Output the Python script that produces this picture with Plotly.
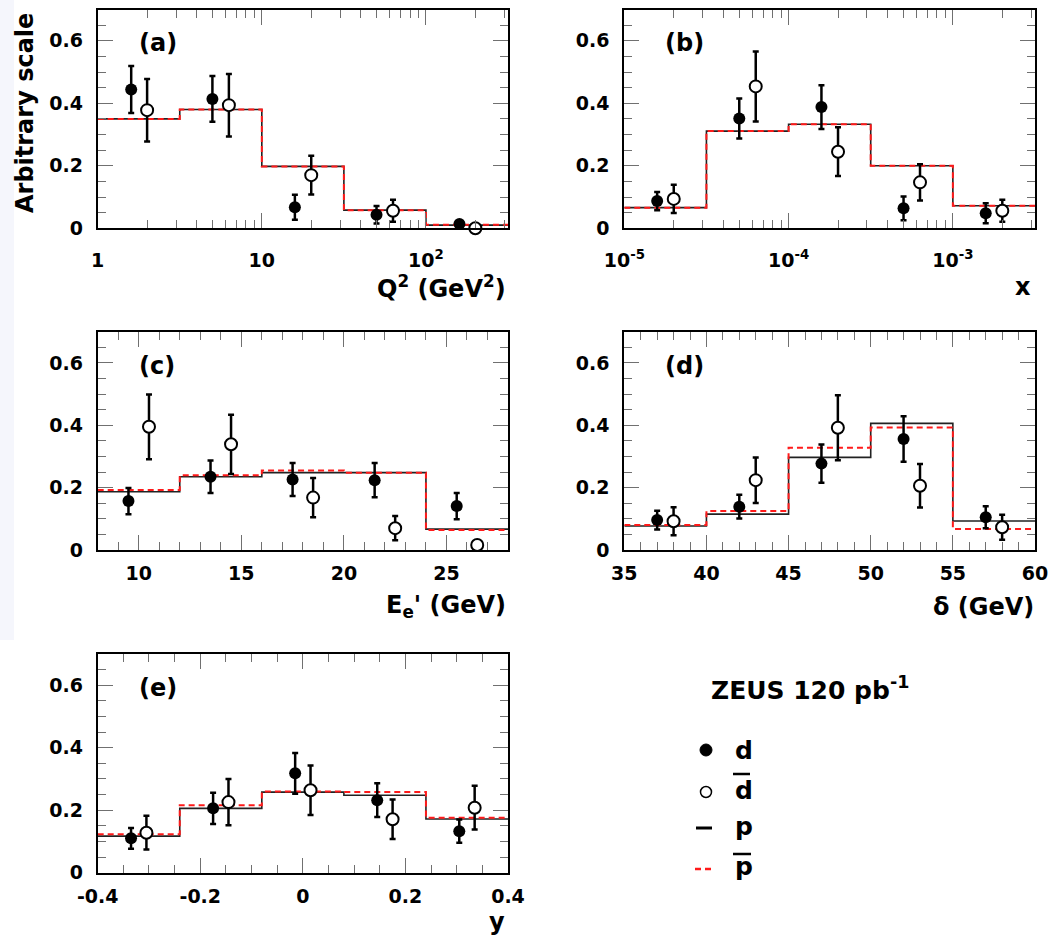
import plotly.graph_objects as go

# ---------------- data ----------------
# (a) Q^2
q2_edges = [1, 3.162, 10, 31.62, 100, 316.2]
q2_p = [0.350, 0.380, 0.198, 0.058, 0.010]
q2_pbar = [0.350, 0.380, 0.198, 0.058, 0.011]
q2_d_x = [1.6, 5.0, 15.9, 50, 160]
q2_d = [0.444, 0.414, 0.067, 0.043, 0.014]
q2_d_err = [0.075, 0.073, 0.040, 0.028, 0.005]
q2_dbar_x = [2.0, 6.3, 20, 63, 200]
q2_dbar = [0.378, 0.394, 0.170, 0.056, 0.0]
q2_dbar_err = [0.100, 0.100, 0.062, 0.035, 0.0]

# (b) x
x_edges = [1e-5, 3.162e-5, 1e-4, 3.162e-4, 1e-3, 3.162e-3]
x_p = [0.066, 0.311, 0.333, 0.200, 0.072]
x_pbar = [0.066, 0.311, 0.333, 0.200, 0.072]
x_d_x = [1.585e-5, 5.01e-5, 1.585e-4, 5.01e-4, 1.585e-3]
x_d = [0.087, 0.351, 0.388, 0.064, 0.048]
x_d_err = [0.029, 0.064, 0.070, 0.038, 0.032]
x_dbar_x = [2e-5, 6.31e-5, 2e-4, 6.31e-4, 2e-3]
x_dbar = [0.094, 0.454, 0.245, 0.147, 0.056]
x_dbar_err = [0.045, 0.112, 0.078, 0.058, 0.035]

# (c) E_e'
ee_edges = [8, 12, 16, 20, 24, 28]
ee_p = [0.187, 0.235, 0.248, 0.248, 0.067]
ee_pbar = [0.192, 0.240, 0.255, 0.248, 0.064]
ee_d_x = [9.5, 13.5, 17.5, 21.5, 25.5]
ee_d = [0.157, 0.235, 0.226, 0.224, 0.141]
ee_d_err = [0.042, 0.052, 0.053, 0.055, 0.042]
ee_dbar_x = [10.5, 14.5, 18.5, 22.5, 26.5]
ee_dbar = [0.395, 0.339, 0.168, 0.070, 0.016]
ee_dbar_err = [0.104, 0.095, 0.063, 0.039, 0.0]

# (d) delta
dl_edges = [35, 40, 45, 50, 55, 60]
dl_p = [0.077, 0.115, 0.297, 0.406, 0.093]
dl_pbar = [0.080, 0.125, 0.328, 0.393, 0.067]
dl_d_x = [37, 42, 47, 52, 57]
dl_d = [0.096, 0.139, 0.277, 0.356, 0.105]
dl_d_err = [0.030, 0.038, 0.061, 0.073, 0.035]
dl_dbar_x = [38, 43, 48, 53, 58]
dl_dbar = [0.092, 0.224, 0.392, 0.206, 0.073]
dl_dbar_err = [0.045, 0.073, 0.104, 0.070, 0.040]

# (e) y
y_edges = [-0.4, -0.24, -0.08, 0.08, 0.24, 0.4]
y_p = [0.117, 0.206, 0.258, 0.248, 0.172]
y_pbar = [0.123, 0.216, 0.260, 0.258, 0.176]
y_d_x = [-0.335, -0.175, -0.015, 0.145, 0.305]
y_d = [0.110, 0.206, 0.318, 0.232, 0.133]
y_d_err = [0.033, 0.050, 0.065, 0.054, 0.037]
y_dbar_x = [-0.305, -0.145, 0.015, 0.175, 0.335]
y_dbar = [0.128, 0.226, 0.264, 0.171, 0.208]
y_dbar_err = [0.054, 0.074, 0.079, 0.063, 0.070]

panel_labels = ["(a)", "(b)", "(c)", "(d)", "(e)"]
x_titles = ["Q<sup>2</sup> (GeV<sup>2</sup>)", "x", "E<sub>e</sub>' (GeV)", "δ (GeV)", "y"]
y_title = "Arbitrary scale"
lumi_text = "ZEUS 120 pb<sup>-1</sup>"
legend_names = ["d", "d", "p", "p"]

# ---------------- layout helpers ----------------
W, H = 1060, 939
FONT = "DejaVu Sans"


def px(v):
    return v / W


def py(v):
    return 1 - v / H


# frame boxes in pixels: left, right, top, bottom
boxes = [
    (97.7, 508, 9.5, 228.3),
    (624.3, 1035, 9.5, 228.3),
    (97.7, 508, 331.7, 550),
    (624.3, 1035, 331.7, 550),
    (97.7, 508, 654, 872.7),
]

datasets = [
    (q2_edges, q2_p, q2_pbar, q2_d_x, q2_d, q2_d_err, q2_dbar_x, q2_dbar, q2_dbar_err),
    (x_edges, x_p, x_pbar, x_d_x, x_d, x_d_err, x_dbar_x, x_dbar, x_dbar_err),
    (ee_edges, ee_p, ee_pbar, ee_d_x, ee_d, ee_d_err, ee_dbar_x, ee_dbar, ee_dbar_err),
    (dl_edges, dl_p, dl_pbar, dl_d_x, dl_d, dl_d_err, dl_dbar_x, dl_dbar, dl_dbar_err),
    (y_edges, y_p, y_pbar, y_d_x, y_d, y_d_err, y_dbar_x, y_dbar, y_dbar_err),
]

fig = go.Figure()

for i, ds in enumerate(datasets):
    edges, p, pbar, dx, d, derr, bx, b, berr = ds
    xa = "x" if i == 0 else f"x{i+1}"
    ya = "y" if i == 0 else f"y{i+1}"
    fig.add_trace(go.Scatter(x=edges, y=p + [p[-1]], mode="lines",
                             line=dict(shape="hv", color="#222222", width=1.6),
                             xaxis=xa, yaxis=ya, showlegend=False, hoverinfo="skip"))
    fig.add_trace(go.Scatter(x=edges, y=pbar + [pbar[-1]], mode="lines",
                             line=dict(shape="hv", color="#ff1a1a", width=2, dash="6px,4px"),
                             xaxis=xa, yaxis=ya, showlegend=False, hoverinfo="skip"))
    fig.add_trace(go.Scatter(x=dx, y=d, mode="markers",
                             marker=dict(symbol="circle", size=12, color="black"),
                             error_y=dict(type="data", array=derr, color="black", thickness=2.5, width=3),
                             xaxis=xa, yaxis=ya, showlegend=False, cliponaxis=False))
    fig.add_trace(go.Scatter(x=bx, y=b, mode="markers",
                             marker=dict(symbol="circle", size=12, color="white",
                                         line=dict(color="black", width=2)),
                             error_y=dict(type="data", array=berr, color="black", thickness=2.5, width=3),
                             xaxis=xa, yaxis=ya, showlegend=False, cliponaxis=False))

tickfont = dict(family=FONT, size=19, color="black", weight="bold")
common = dict(showline=True, linecolor="black", linewidth=2, mirror="allticks",
              ticks="inside", ticklen=15, tickwidth=1, tickcolor="#707070",
              showgrid=False, zeroline=False, tickfont=tickfont, automargin=False)

log_minor = lambda lo, hi: [m * 10 ** e for e in range(lo, hi) for m in range(2, 10)]

xaxis_specs = [
    dict(type="log", range=[0, 2.5], tickvals=[1, 10, 100], ticktext=["1", "10", "10<sup>2</sup>"],
         minor=dict(tickvals=[v for v in log_minor(0, 3) if v < 320], ticks="inside", ticklen=8,
                    tickcolor="#707070", tickwidth=1), ticklabelstandoff=14),
    dict(type="log", range=[-5, -2.5], tickvals=[1e-5, 1e-4, 1e-3],
         ticktext=["10<sup>-5</sup>", "10<sup>-4</sup>", "10<sup>-3</sup>"],
         minor=dict(tickvals=[v for v in log_minor(-5, -2) if v < 3.2e-3], ticks="inside", ticklen=8,
                    tickcolor="#707070", tickwidth=1), ticklabelstandoff=14),
    dict(range=[8, 28], tickvals=[10, 15, 20, 25],
         minor=dict(dtick=1, tick0=0, ticks="inside", ticklen=8, tickcolor="#707070", tickwidth=1),
         ticklabelstandoff=5),
    dict(range=[35, 60], tickvals=[35, 40, 45, 50, 55, 60],
         minor=dict(dtick=1, tick0=0, ticks="inside", ticklen=8, tickcolor="#707070", tickwidth=1),
         ticklabelstandoff=5),
    dict(range=[-0.4, 0.4], tickvals=[-0.4, -0.2, 0, 0.2, 0.4], ticktext=["-0.4", "-0.2", "0", "0.2", "0.4"],
         minor=dict(dtick=0.05, tick0=0, ticks="inside", ticklen=8, tickcolor="#707070", tickwidth=1),
         ticklabelstandoff=5),
]

layout = dict(width=W, height=H, margin=dict(l=0, r=0, t=0, b=0, autoexpand=False),
              paper_bgcolor="white", plot_bgcolor="white", showlegend=False)

for i, (l, r, t, b) in enumerate(boxes):
    xk = "xaxis" if i == 0 else f"xaxis{i+1}"
    yk = "yaxis" if i == 0 else f"yaxis{i+1}"
    xa = "x" if i == 0 else f"x{i+1}"
    ya = "y" if i == 0 else f"y{i+1}"
    layout[xk] = dict(common, domain=[px(l), px(r)], anchor=ya, **xaxis_specs[i])
    layout[yk] = dict(common, domain=[py(b), py(t)], anchor=xa, range=[0, 0.7],
                      tickvals=[0, 0.2, 0.4, 0.6], ticktext=["0", "0.2", "0.4", "0.6"],
                      minor=dict(dtick=0.05, tick0=0, ticks="inside", ticklen=8,
                                 tickcolor="#707070", tickwidth=1),
                      ticklabelstandoff=9)

fig.update_layout(**layout)

ann = []
tf = dict(family=FONT, size=24, color="black", weight="bold")
# panel labels
for i, (l, r, t, b) in enumerate(boxes):
    ann.append(dict(text=panel_labels[i], x=px(l + 39), y=py(t + 34), xref="paper", yref="paper",
                    xanchor="left", yanchor="middle", showarrow=False, font=tf))
# x titles
title_pos = [(508, 287), (1033, 287), (508, 606), (1036, 607), (507, 922)]
for i, (xr, yc) in enumerate(title_pos):
    ann.append(dict(text=x_titles[i], x=px(xr), y=py(yc), xref="paper", yref="paper",
                    xanchor="right", yanchor="middle", showarrow=False, font=tf))
# y title
ann.append(dict(text=y_title, x=px(25), y=py(113), xref="paper", yref="paper", textangle=-90,
                xanchor="center", yanchor="middle", showarrow=False, font=tf))
# lumi
ann.append(dict(text=lumi_text, x=px(709), y=py(688), xref="paper", yref="paper",
                xanchor="left", yanchor="middle", showarrow=False,
                font=dict(family=FONT, size=25, color="black", weight="bold")))
leg_y = [750, 790, 826, 866]
for name, yy in zip(legend_names, leg_y):
    ann.append(dict(text=name, x=px(733), y=py(yy), xref="paper", yref="paper",
                    xanchor="left", yanchor="middle", showarrow=False,
                    font=dict(family=FONT, size=25, color="black", weight="bold")))

shapes = []
# faint slide background at the left edge
shapes.append(dict(type="rect", xref="paper", yref="paper", x0=0, x1=px(14), y0=py(640), y1=1,
                   fillcolor="#f5f6fc", line=dict(width=0), layer="below"))
# legend glyphs
shapes.append(dict(type="circle", xref="paper", yref="paper", x0=px(700), x1=px(712),
                   y0=py(756), y1=py(744), fillcolor="black", line=dict(color="black", width=1)))
shapes.append(dict(type="circle", xref="paper", yref="paper", x0=px(700.5), x1=px(711.5),
                   y0=py(797.5), y1=py(786.5), fillcolor="white", line=dict(color="black", width=1.5)))
shapes.append(dict(type="line", xref="paper", yref="paper", x0=px(696), x1=px(712),
                   y0=py(828), y1=py(828), line=dict(color="black", width=3)))
shapes.append(dict(type="line", xref="paper", yref="paper", x0=px(695), x1=px(713),
                   y0=py(869), y1=py(869), line=dict(color="#ff1a1a", width=2.5, dash="6px,4px")))
# overlines for anti-particles
shapes.append(dict(type="line", xref="paper", yref="paper", x0=px(733), x1=px(750),
                   y0=py(774), y1=py(774), line=dict(color="black", width=2.5)))
shapes.append(dict(type="line", xref="paper", yref="paper", x0=px(733), x1=px(751),
                   y0=py(854), y1=py(854), line=dict(color="black", width=2.5)))

fig.update_layout(annotations=ann, shapes=shapes)
fig.write_html("out.html", config={"displayModeBar": False},
               post_script="document.body.style.margin='0';document.body.style.overflow='hidden';")
